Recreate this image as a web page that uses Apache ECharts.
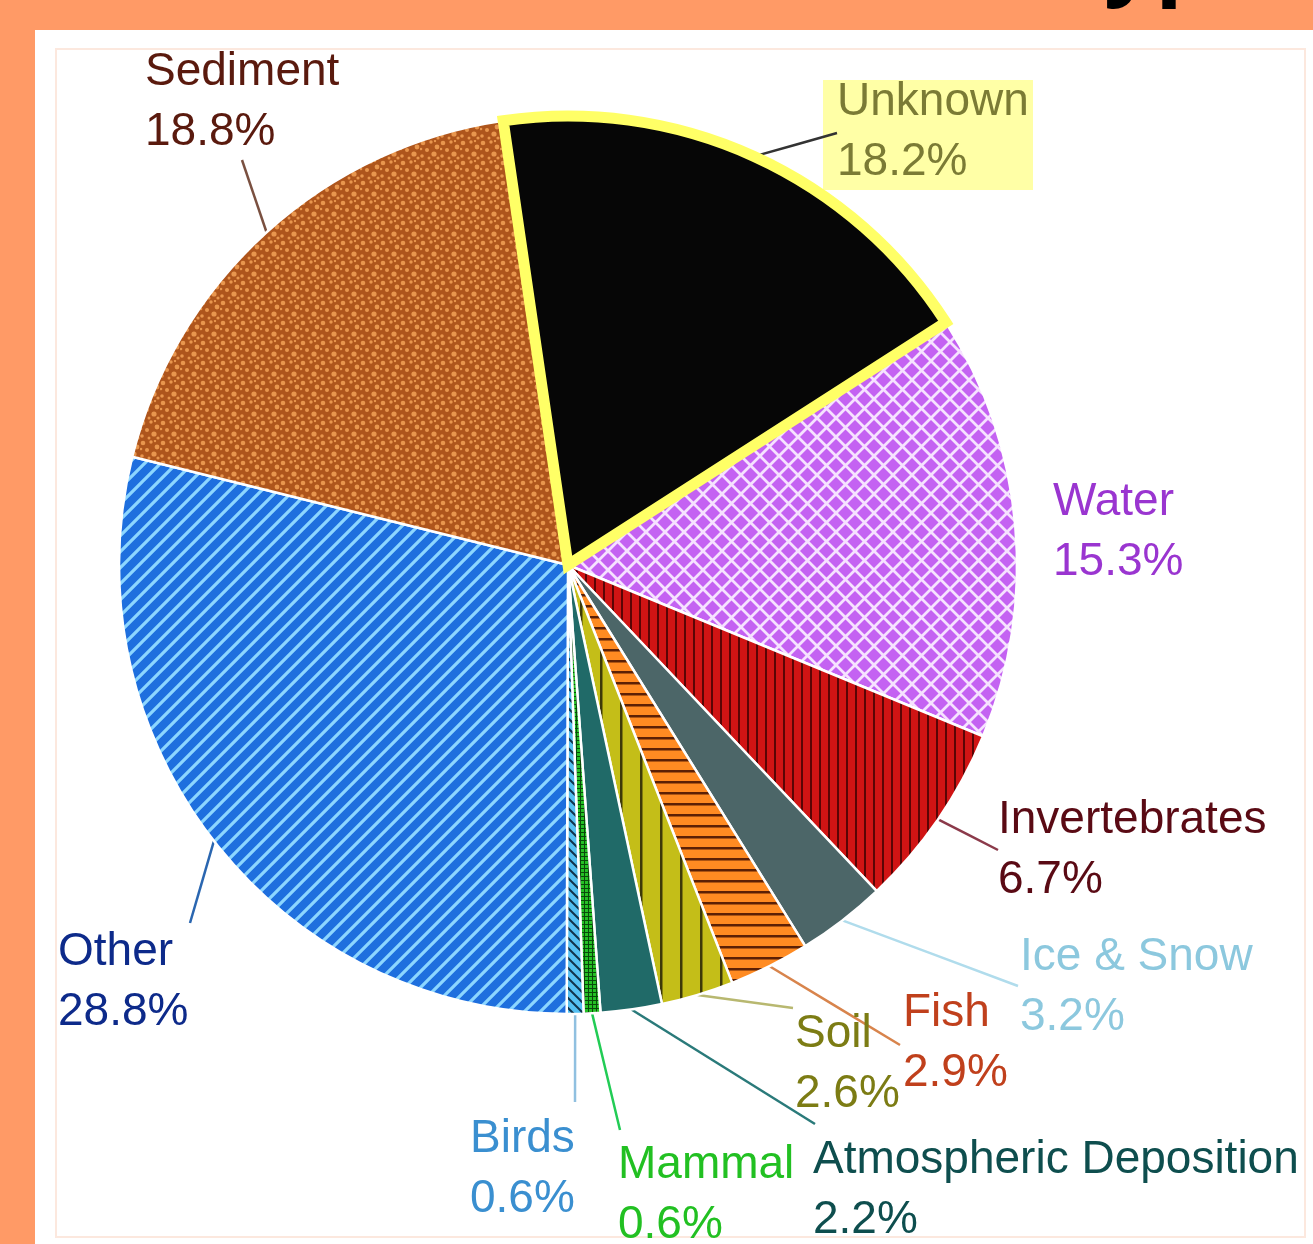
<!DOCTYPE html>
<html>
<head>
<meta charset="utf-8">
<script src="https://cdn.jsdelivr.net/npm/echarts@6/dist/echarts.min.js"></script>
<style>
html,body{margin:0;padding:0;background:#FF9A66;}
#chart{width:1313px;height:1244px;}
</style>
</head>
<body>
<div id="chart"></div>
<script>
// ---- data (clockwise from the top) ----
const categories = ['Unknown', 'Water', 'Invertebrates', 'Ice & Snow', 'Fish', 'Soil',
  'Atmospheric Deposition', 'Mammal', 'Birds', 'Other', 'Sediment'];
const percents = [18.2, 15.3, 6.7, 3.2, 2.9, 2.6, 2.2, 0.6, 0.6, 28.8, 18.8];
const highlighted = 'Unknown';
const titleFragment = 'Type';

// ---- styling helpers ----
function tile(w, h, draw) {
  const c = document.createElement('canvas');
  c.width = w; c.height = h;
  const ctx = c.getContext('2d');
  draw(ctx, w, h);
  return { image: c, repeat: 'repeat' };
}
function fillBase(ctx, w, h, col) { ctx.fillStyle = col; ctx.fillRect(0, 0, w, h); }
const patterns = {
  'Sediment': tile(20, 20, (ctx, w, h) => {
    fillBase(ctx, w, h, '#AE551C');
    ctx.fillStyle = '#E8964E';
    const dots = [[3,3,2.3],[11,2,1.7],[17,7,2.4],[7,10,2.0],[14,14,2.6],[2,16,1.8],[9,18,1.5],[18,18,1.6],[1,9,1.3],[15,1,1.2]];
    dots.forEach(d => { ctx.beginPath(); ctx.arc(d[0], d[1], d[2], 0, Math.PI * 2); ctx.fill(); });
  }),
  'Other': tile(16, 16, (ctx, w, h) => {
    fillBase(ctx, w, h, '#1E6FDE');
    ctx.strokeStyle = '#8CD6FF'; ctx.lineWidth = 3.2; ctx.beginPath();
    ctx.moveTo(-8, 24); ctx.lineTo(24, -8);
    ctx.moveTo(-16, 16); ctx.lineTo(16, -16);
    ctx.moveTo(0, 32); ctx.lineTo(32, 0);
    ctx.stroke();
  }),
  'Water': tile(19, 19, (ctx, w, h) => {
    fillBase(ctx, w, h, '#C462F2');
    ctx.strokeStyle = '#F6E2FF'; ctx.lineWidth = 2.8; ctx.beginPath();
    ctx.moveTo(0, 0); ctx.lineTo(19, 19);
    ctx.moveTo(-19, 0); ctx.lineTo(0, 19); ctx.moveTo(19, 0); ctx.lineTo(38, 19);
    ctx.moveTo(0, 19); ctx.lineTo(19, 0);
    ctx.moveTo(-19, 19); ctx.lineTo(0, 0); ctx.moveTo(19, 19); ctx.lineTo(38, 0);
    ctx.stroke();
  }),
  'Invertebrates': tile(9, 9, (ctx, w, h) => {
    fillBase(ctx, w, h, '#D01414');
    ctx.fillStyle = '#5A0505'; ctx.fillRect(0, 0, 2, h);
  }),
  'Ice & Snow': '#4C6668',
  'Fish': tile(11, 11, (ctx, w, h) => {
    fillBase(ctx, w, h, '#FF8B22');
    ctx.fillStyle = '#5C2005'; ctx.fillRect(0, 0, w, 2.5);
  }),
  'Soil': tile(20, 20, (ctx, w, h) => {
    fillBase(ctx, w, h, '#C4BE18');
    ctx.fillStyle = '#3E3A08'; ctx.fillRect(0, 0, 2.5, h);
  }),
  'Atmospheric Deposition': '#206A68',
  'Mammal': tile(4, 4, (ctx, w, h) => {
    fillBase(ctx, w, h, '#25C025');
    ctx.fillStyle = '#0A4A0A'; ctx.fillRect(0, 0, w, 1); ctx.fillRect(0, 0, 1, h);
  }),
  'Birds': tile(10, 10, (ctx, w, h) => {
    fillBase(ctx, w, h, '#55C0F2');
    ctx.strokeStyle = '#12324A'; ctx.lineWidth = 2; ctx.beginPath();
    ctx.moveTo(0, 0); ctx.lineTo(10, 10); ctx.moveTo(-5, 5); ctx.lineTo(5, 15); ctx.moveTo(5, -5); ctx.lineTo(15, 5);
    ctx.stroke();
  }),
  'Unknown': '#060606'
};
const textColors = {
  'Unknown': '#7B7B35', 'Water': '#9A35D0', 'Invertebrates': '#5A0A14', 'Ice & Snow': '#8CC8DE',
  'Fish': '#C0401C', 'Soil': '#7C7C14', 'Atmospheric Deposition': '#0E4E4E', 'Mammal': '#22C022',
  'Birds': '#3A8FD0', 'Other': '#0D2A8A', 'Sediment': '#5A1A0E'
};
const lineColors = {
  'Unknown': '#333333', 'Water': '#9A35D0', 'Invertebrates': '#8B3A4A', 'Ice & Snow': '#B0DCEC',
  'Fish': '#D8844C', 'Soil': '#B8B870', 'Atmospheric Deposition': '#2A7A7A', 'Mammal': '#22CC55',
  'Birds': '#90C0E0', 'Other': '#2A66B0', 'Sediment': '#7A5040'
};
// label block placement (top-left of text) and leader-line end
const labelPlace = {
  'Sediment': { x: 145, y: 42, end: [242, 160] },
  'Unknown': { x: 837, y: 72, end: [837, 133] },
  'Water': { x: 1053, y: 472, end: null },
  'Invertebrates': { x: 998, y: 790, end: [998, 850] },
  'Ice & Snow': { x: 1020, y: 927, end: [1018, 986] },
  'Fish': { x: 903, y: 983, end: [900, 1045] },
  'Soil': { x: 795, y: 1004, end: [793, 1008] },
  'Atmospheric Deposition': { x: 813, y: 1130, end: [815, 1124] },
  'Mammal': { x: 618, y: 1135, end: [620, 1130] },
  'Birds': { x: 470, y: 1109, end: [575, 1102] },
  'Other': { x: 58, y: 922, end: [190, 923] }
};

const CENTER = [568, 565];
const RADIUS = 449;
const START = 98.3;
const FONT = '"Liberation Sans", Arial, sans-serif';

const pieData = categories.map((name, i) => ({
  name: name,
  value: percents[i],
  itemStyle: { color: patterns[name] },
  label: { color: textColors[name] },
  labelLine: { show: !!labelPlace[name].end, lineStyle: { color: lineColors[name], width: 2.5 } }
}));
const overlayData = categories.map((name, i) => ({
  name: name,
  value: percents[i],
  itemStyle: name === highlighted
    ? { color: 'rgba(0,0,0,0)', borderColor: '#FFFF66', borderWidth: 11, borderJoin: 'miter' }
    : { color: 'rgba(0,0,0,0)', borderWidth: 0 }
}));

const chart = echarts.init(document.getElementById('chart'), null, { renderer: 'canvas' });
chart.setOption({
  backgroundColor: '#FF9A66',
  animation: false,
  graphic: [
    { type: 'rect', z: -10, shape: { x: 35, y: 30, width: 1278, height: 1214 }, style: { fill: '#FFFFFF' } },
    { type: 'rect', z: -9, shape: { x: 56, y: 49, width: 1249, height: 1188 }, style: { fill: 'none', stroke: '#FCE8DE', lineWidth: 2 } },
    { type: 'rect', z: -8, shape: { x: 823, y: 80, width: 210, height: 110 }, style: { fill: '#FFFFA6' } },
    { type: 'text', z: -7, style: { text: titleFragment, x: 1052, y: 6, fill: '#000', font: 'bold 90px "Open Sans", sans-serif', verticalAlign: 'bottom', align: 'left' } }
  ],
  series: [
    {
      type: 'pie',
      center: CENTER,
      radius: RADIUS,
      startAngle: START,
      clockwise: true,
      avoidLabelOverlap: false,
      silent: true,
      z: 2,
      itemStyle: { borderColor: '#FFFFFF', borderWidth: 2.5 },
      label: {
        show: true,
        position: 'outside',
        fontFamily: FONT,
        fontSize: 46,
        lineHeight: 60,
        formatter: p => p.name + '\n' + p.value.toFixed(1) + '%'
      },
      labelLine: { show: true, length: 20, length2: 20 },
      labelLayout: function (params) {
        const name = categories[params.dataIndex];
        const pl = labelPlace[name];
        const out = { x: pl.x, y: pl.y, align: 'left', verticalAlign: 'top', hideOverlap: false, moveOverlap: null };
        if (pl.end && params.labelLinePoints) {
          const s = params.labelLinePoints[0];
          const m = [(s[0] + pl.end[0]) / 2, (s[1] + pl.end[1]) / 2];
          out.labelLinePoints = [s, m, pl.end];
        }
        return out;
      },
      data: pieData
    },
    {
      type: 'pie',
      center: CENTER,
      radius: RADIUS,
      startAngle: START,
      clockwise: true,
      silent: true,
      z: 3,
      label: { show: false },
      labelLine: { show: false },
      data: overlayData
    }
  ]
});
</script>
</body>
</html>
